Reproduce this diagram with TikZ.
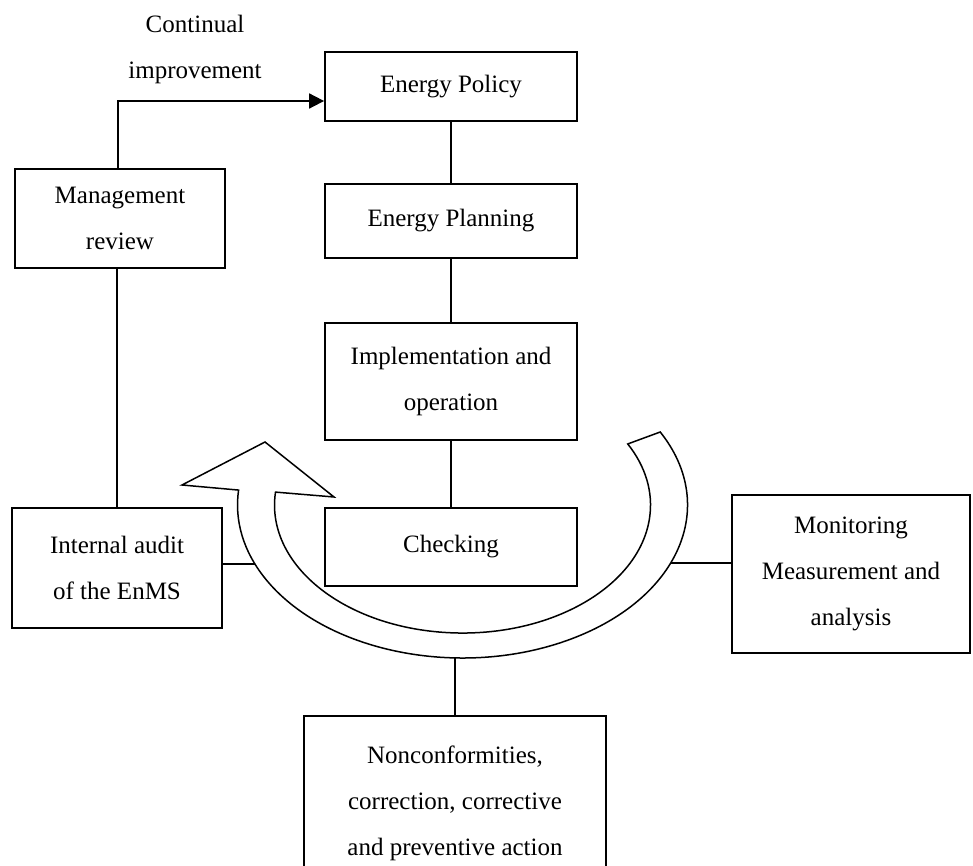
\documentclass[tikz,border=0pt]{standalone}
\usepackage{fontspec}
\setmainfont{Liberation Serif}
\usetikzlibrary{arrows.meta}
\begin{document}
\begin{tikzpicture}[x=1pt,y=1pt,
  box/.style={draw, line width=1.8pt, align=center, inner sep=0pt, font=\fontsize{25}{46}\selectfont},
  lbl/.style={align=center, inner sep=0pt, font=\fontsize{25}{46}\selectfont},
  conn/.style={line width=1.8pt},
  bigarrow/.style={draw, fill=white, line width=1.5pt, line join=miter}]
\clip (0,0) rectangle (973,865);
% boxes
\node[box, minimum width=252pt, minimum height=69pt]  (policy)   at (451,778.5) {Energy Policy};
\node[box, minimum width=252pt, minimum height=74pt]  (planning) at (451,644)   {Energy Planning};
\node[box, minimum width=252pt, minimum height=117pt] (impl)     at (451,483.5) {Implementation and\\operation};
\node[box, minimum width=252pt, minimum height=78pt]  (check)    at (451,318)   {Checking};
\node[box, minimum width=210pt, minimum height=99pt]  (mgmt)     at (120,646.5) {Management\\review};
\node[box, minimum width=210pt, minimum height=120pt] (audit)    at (117,297)   {Internal audit\\of the EnMS};
\node[box, minimum width=238pt, minimum height=158pt] (monitor)  at (851,291)   {Monitoring\\Measurement and\\analysis};
\node[box, minimum width=302pt, minimum height=175pt, anchor=north] (noncon) at (455,150) {Nonconformities,\\correction, corrective\\and preventive action};
\node[lbl] (cont) at (195,815.5) {Continual\\improvement};
% connectors
\coordinate (ci) at (118,764);
\draw[conn, -{Triangle[length=15pt,width=15pt]}] (mgmt.north -| ci) -- (ci) -- (ci -| policy.west);
\draw[conn] (policy) -- (planning);
\draw[conn] (planning) -- (impl);
\draw[conn] (impl) -- (check);
\draw[conn] (mgmt.south -| audit) -- (audit.north);
\coordinate (arrL) at (256,301);
\coordinate (arrR) at (669,302);
\coordinate (arrB) at (455,208);
\draw[conn] (audit.east |- arrL) -- (arrL);
\draw[conn] (arrR) -- (arrR -| monitor.west);
\draw[conn] (arrB) -- (noncon.north);
% big curved arrow
\draw[bigarrow] (462.5,360) ++(28.5:225 and 153)
  arc[start angle=28.5, end angle=-185.6, x radius=225, y radius=153]
  -- (182,380) -- (265,423) -- (334,368) -- (275.5,372.9)
  arc[start angle=-185.8, end angle=28.5, x radius=188, y radius=128]
  -- cycle;
\end{tikzpicture}
\end{document}
